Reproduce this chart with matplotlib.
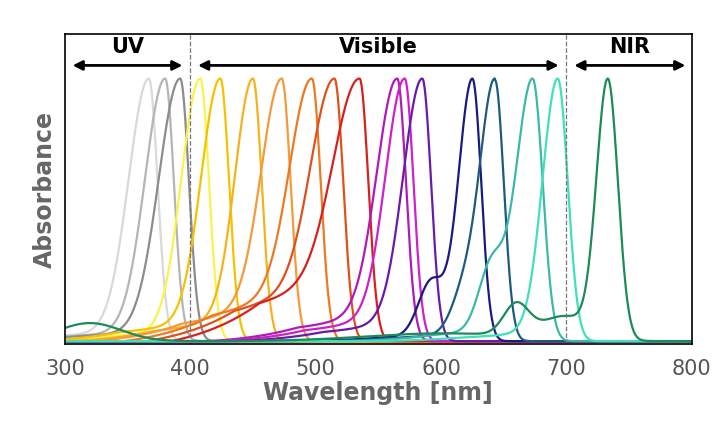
import numpy as np
import matplotlib
matplotlib.use("Agg")
import matplotlib.pyplot as plt

peaks = [367, 380, 392, 408, 424, 450, 473, 497, 515, 535, 565, 571, 585, 625, 643, 673, 693, 733]
left_w = [16, 16, 17, 15, 15, 14, 16, 17, 18, 20, 16, 15, 15, 11, 12, 13, 12, 9]
right_w = [7, 7, 7, 7, 7, 7, 7, 7, 7, 7, 7, 7, 7, 7, 7, 8, 8, 8]
tail_h = [0.05, 0.05, 0.05, 0.05, 0.1, 0.12, 0.18, 0.25, 0.28, 0.32, 0.14, 0.12, 0.1, 0.05, 0.05, 0.08, 0.05, 0.02]
colors = ["#d9d9d9", "#b5b5b5", "#8c8c8c", "#fbf34a", "#f5c200", "#f4b31c", "#f39a3a",
          "#ec7a22", "#e0501c", "#d8201c", "#b01ab8", "#d020c8", "#6a1aa8", "#1a1a80",
          "#1e5a80", "#3cb8a8", "#40e0b8", "#1e8a5a"]
shoulder_pos = [None]*13 + [592, 618, 640, None, 660]
shoulder_h = [0]*13 + [0.2, 0.14, 0.24, 0, 0.12]

x = np.linspace(300, 800, 1500)
fig = plt.figure(figsize=(7.2, 4.31), dpi=100)
ax = fig.add_axes([0.09, 0.2, 0.871, 0.719])
for i, (p, lw_, rw, c) in enumerate(zip(peaks, left_w, right_w, colors)):
    s = np.where(x < p, lw_, rw)
    y = np.exp(-0.5*((x-p)/s)**2)
    d = p - x
    tail = tail_h[i]*np.exp(-d/(5*lw_))*(x < p)*np.clip((150 - d)/70, 0, 1)
    y = y + tail*(1 - y)
    if shoulder_pos[i]:
        sp = shoulder_pos[i]
        y = y + shoulder_h[i]*np.exp(-0.5*((x-sp)/10)**2)*(x < p)
    if i == 17:
        y = y + 0.08*np.exp(-0.5*((x-698)/18)**2) + 0.07*np.exp(-0.5*((x-320)/25)**2) \
            + 0.03*np.exp(-0.5*((x-600)/60)**2)
    y = y / y.max()
    ax.plot(x, y, color=c, lw=1.6)

ax.set_xlim(300, 800)
ax.set_ylim(-0.01, 1.17)
ax.axvline(400, color="#777777", ls="--", lw=0.9)
ax.axvline(700, color="#777777", ls="--", lw=0.9)
for a, b, lbl in [(304, 396, "UV"), (404, 696, "Visible"), (704, 797, "NIR")]:
    ax.annotate("", xy=(a, 1.05), xytext=(b, 1.05),
                arrowprops=dict(arrowstyle="<|-|>", color="black", lw=2, mutation_scale=14))
    ax.text((a+b)/2, 1.125, lbl, ha="center", va="center", fontsize=15, fontweight="bold")
ax.set_yticks([])
ax.set_xticks([300, 400, 500, 600, 700, 800])
ax.tick_params(axis="x", length=0, labelsize=15, labelcolor="#555555", pad=10)
ax.set_xlabel("Wavelength [nm]", fontsize=17, fontweight="bold", color="#666666", labelpad=2)
ax.set_ylabel("Absorbance", fontsize=17, fontweight="bold", color="#666666", labelpad=6)
for sp in ax.spines.values():
    sp.set_color("black"); sp.set_linewidth(1.2)
fig.savefig("out.png", dpi=100)
